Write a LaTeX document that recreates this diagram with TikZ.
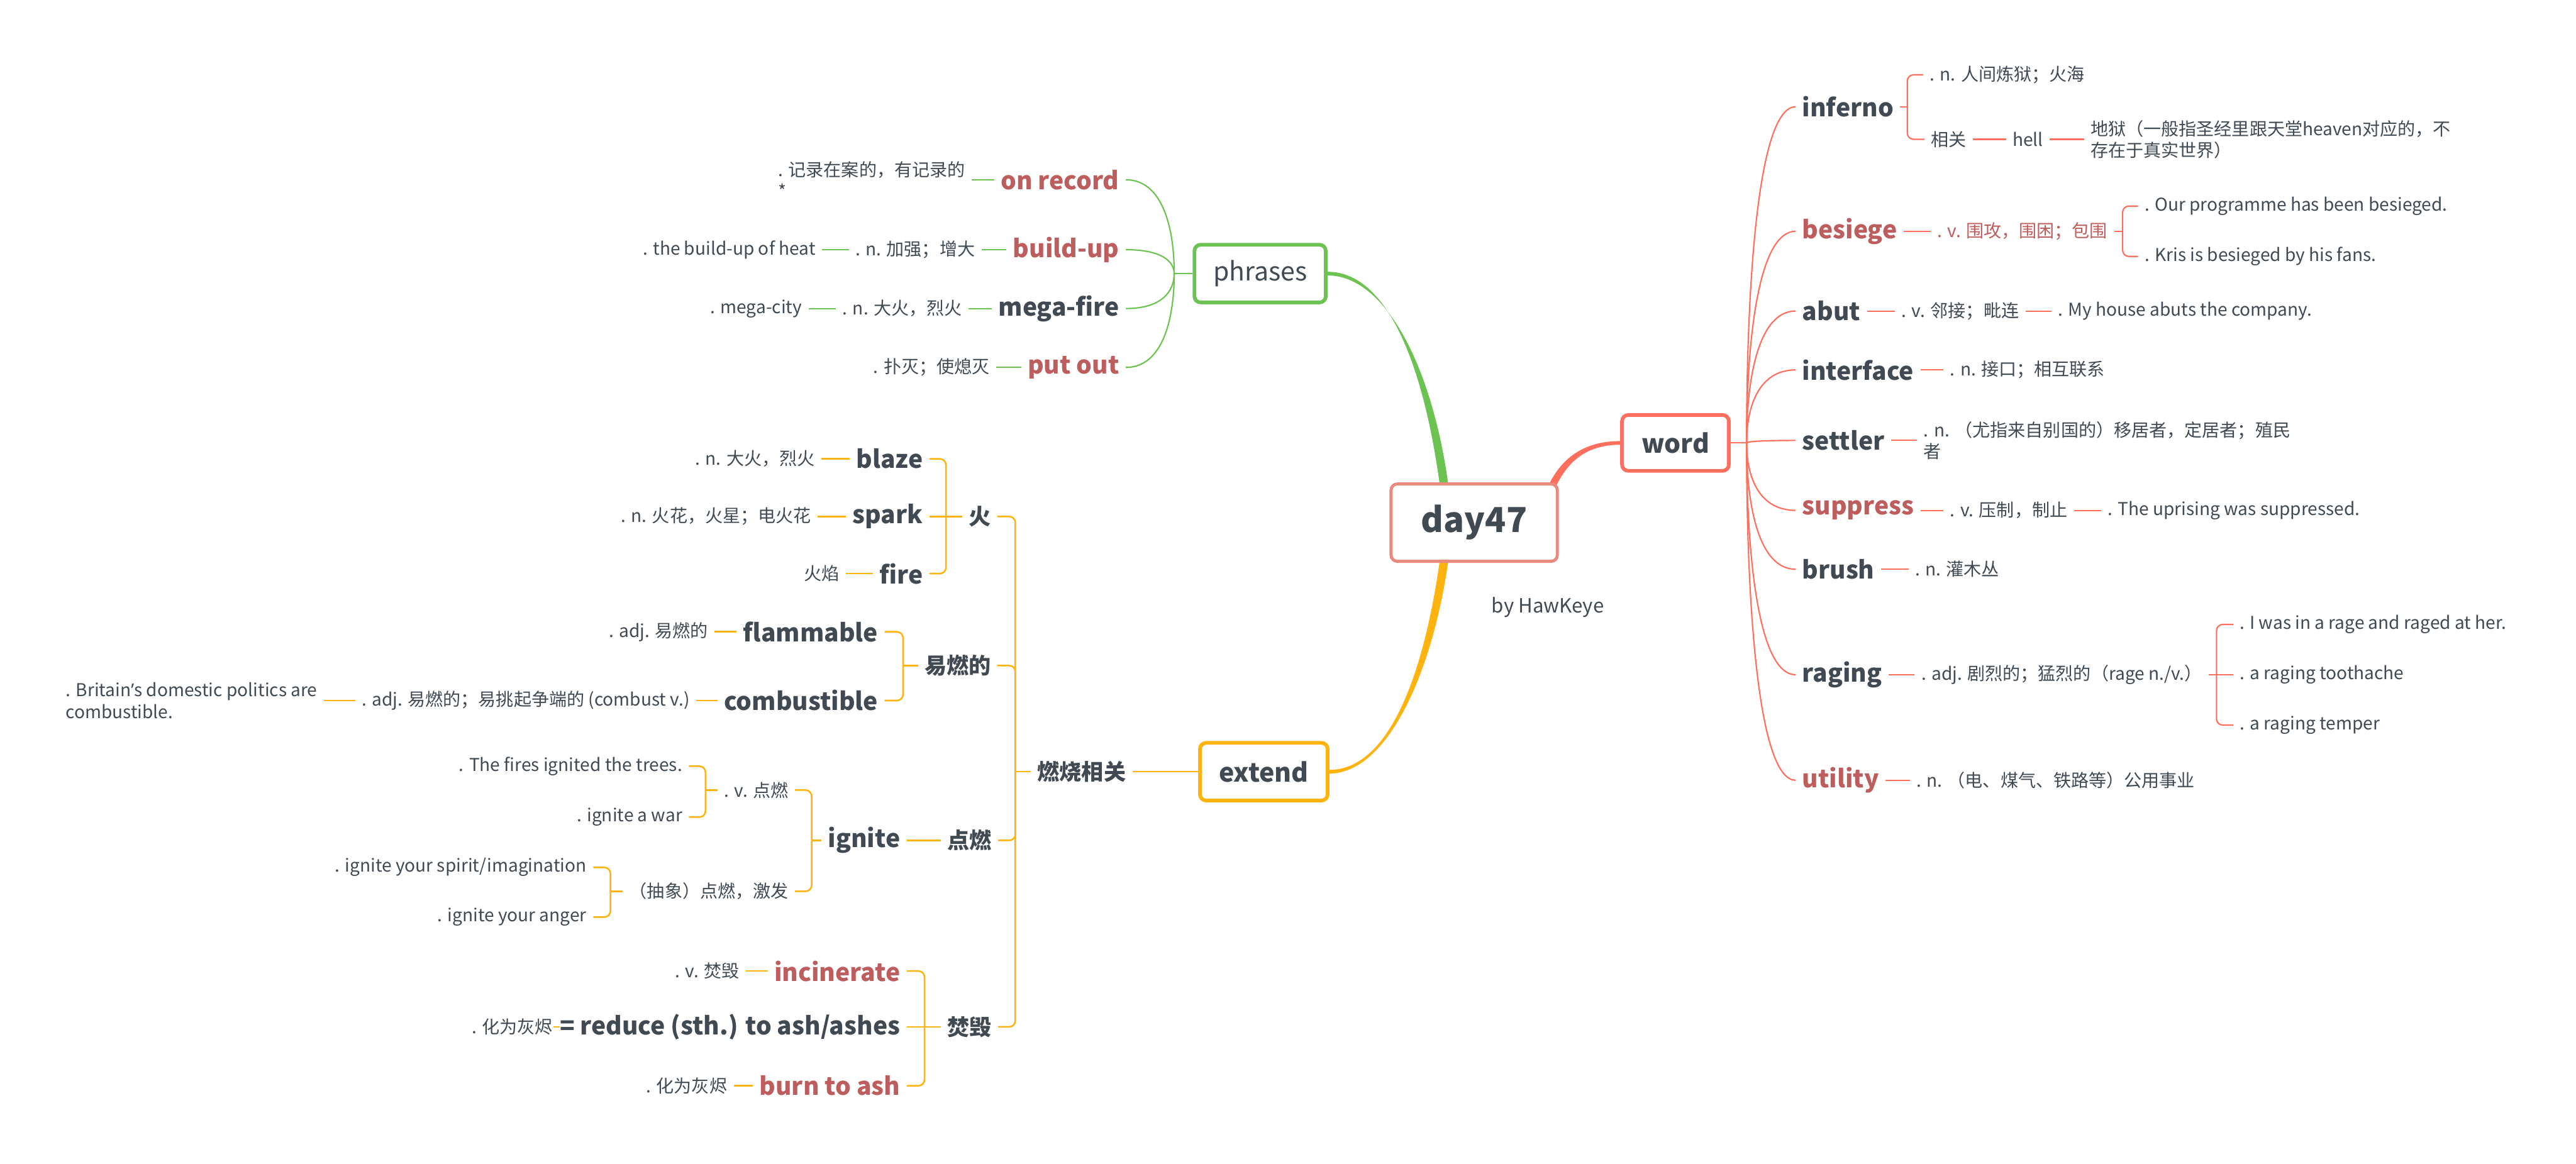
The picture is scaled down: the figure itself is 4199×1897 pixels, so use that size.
\documentclass[tikz,border=0pt]{standalone}
\usepackage{fontspec}
\setmainfont{Noto Sans CJK SC}
\newfontfamily\latf{Noto Sans}
\usetikzlibrary{calc}
\pgfdeclarelayer{bg}
\pgfsetlayers{bg,main}
\definecolor{txt}{HTML}{414A53}
\definecolor{hred}{HTML}{BD5D5D}
\definecolor{cw}{HTML}{FF6F5E}
\definecolor{cg}{HTML}{6DC352}
\definecolor{cy}{HTML}{FFB30F}
\definecolor{cr}{HTML}{EA897E}
\newcommand\fdet{\fontsize{7.2pt}{8.75pt}\selectfont}
\newcommand\fhead{\fontsize{10pt}{12pt}\selectfont\bfseries}
\newcommand\ftopic{\fontsize{9pt}{10pt}\selectfont\bfseries}
\newcommand\fbx{\fontsize{10.5pt}{12pt}\selectfont}
\newcommand\froot{\fontsize{14pt}{16pt}\selectfont\bfseries}
\newcommand\fby{\fontsize{8pt}{10pt}\selectfont}
\newcommand\wcurve[3]{\draw[#1] (#2) .. controls ($(#2)!0.5!(#2|-#3)$) and ($(#2|-#3)!0.25!(#3)$) .. (#3);}
\begin{document}
\begin{tikzpicture}[x=0.25pt,y=-0.25pt,
  det/.style={font=\fdet,text=txt,inner xsep=2.5pt,inner ysep=1pt,align=left},
  dr/.style={det,anchor=west},
  dl/.style={det,anchor=east},
  hw/.style={font=\fhead,text=txt,inner xsep=2.5pt,inner ysep=1pt},
  hr/.style={hw,anchor=west},
  hl/.style={hw,anchor=east},
  hot/.style={text=hred},
  topic/.style={font=\ftopic,text=txt,inner xsep=2.5pt,inner ysep=1pt,anchor=east},
  wl/.style={draw=cw,line width=0.55pt},
  gl/.style={draw=cg,line width=0.55pt},
  yl/.style={draw=cy,line width=0.65pt},
  brk/.style={rounded corners=2.5pt},
  mbox/.style={rounded corners=2.5pt,fill=white,line width=1.5pt,text=txt,font=\fbx},
]
\useasboundingbox (0,0) rectangle (4199,1897);
\begin{pgfonlayer}{bg}
\fill[white] (0,0) rectangle (4199,1897);
\end{pgfonlayer}

% central boxes
\node[mbox,draw=cr,line width=1.25pt,minimum width=67.75pt,minimum height=31.5pt,font=\froot] (root) at (2403,852) {day47};
\node[font=\fby,text=txt] (by) at (2523,990) {by HawKeye};
\node[mbox,draw=cw,minimum width=43.5pt,minimum height=22.75pt,font=\fbx\bfseries] (word) at (2731,722) {word};
\node[mbox,draw=cg,minimum width=53.5pt,minimum height=23.5pt] (phr) at (2054,446) {phrases};
\node[mbox,draw=cy,minimum width=52pt,minimum height=23.5pt,font=\fbx\bfseries] (ext) at (2060,1258) {extend};

% ===== word branch =====
\coordinate (jw) at (2847,722);
\draw[wl] (word.east) -- (jw);
\node[hr] (inf) at (2927,174) {inferno};
\node[hr,hot] (bes) at (2927,377) {besiege};
\node[hr] (abut) at (2927,507) {abut};
\node[hr] (intf) at (2927,603) {interface};
\node[hr] (set) at (2927,718) {settler};
\node[hr,hot] (sup) at (2927,832) {suppress};
\node[hr] (bru) at (2927,928) {brush};
\node[hr] (rag) at (2927,1100) {raging};
\node[hr,hot] (uti) at (2927,1272) {utility};
\foreach \n in {inf,bes,abut,intf,set,sup,bru,rag,uti} {\wcurve{wl}{jw}{\n.west}}

% inferno
\node[dr] (infd) at (3135,122) {. n. 人间炼狱；火海};
\node[dr] (infr) at (3137,227) {相关};
\node[dr] (hell) at (3270,227) {hell};
\node[dr] (helld) at (3397,227) {地狱（一般指圣经里跟天堂heaven对应的，不\\存在于真实世界）};
\coordinate (ti) at (3109,174);
\draw[wl] (inf.east) -- (ti);
\draw[wl,brk] (ti) |- (infd.west);
\draw[wl,brk] (ti) |- (infr.west);
\draw[wl] (infr.east) -- (hell.west);
\draw[wl] (hell.east) -- (helld.west);

% besiege
\node[dr,hot] (besd) at (3147,377) {. v. 围攻，围困；包围};
\draw[wl] (bes.east) -- (besd.west);
\coordinate (tb) at (3460,377);
\draw[wl] (besd.east) -- (tb);
\node[dr] (bes1) at (3485,336) {. Our programme has been besieged.};
\node[dr] (bes2) at (3485,418) {. Kris is besieged by his fans.};
\draw[wl,brk] (tb) |- (bes1.west);
\draw[wl,brk] (tb) |- (bes2.west);

% abut
\node[dr] (abutd) at (3089,507) {. v. 邻接；毗连};
\node[dr] (abute) at (3344,507) {. My house abuts the company.};
\draw[wl] (abut.east) -- (abutd.west);
\draw[wl] (abutd.east) -- (abute.west);

% interface
\node[dr] (intfd) at (3168,603) {. n. 接口；相互联系};
\draw[wl] (intf.east) -- (intfd.west);

% settler
\node[dr] (setd) at (3125,718) {. n. （尤指来自别国的）移居者，定居者；殖民\\者};
\draw[wl] (set.east) -- (setd.west);

% suppress
\node[dr] (supd) at (3168,832) {. v. 压制，制止};
\node[dr] (supe) at (3425,832) {. The uprising was suppressed.};
\draw[wl] (sup.east) -- (supd.west);
\draw[wl] (supd.east) -- (supe.west);

% brush
\node[dr] (brud) at (3111,928) {. n. 灌木丛};
\draw[wl] (bru.east) -- (brud.west);

% raging
\node[dr] (ragd) at (3121,1100) {. adj. 剧烈的；猛烈的（rage n./v.）};
\draw[wl] (rag.east) -- (ragd.west);
\coordinate (tr) at (3613,1100);
\draw[wl] (ragd.east) -- (tr);
\node[dr] (rag1) at (3640,1018) {. I was in a rage and raged at her.};
\node[dr] (rag2) at (3640,1100) {. a raging toothache};
\node[dr] (rag3) at (3640,1182) {. a raging temper};
\draw[wl,brk] (tr) |- (rag1.west);
\draw[wl] (tr) -- (rag2.west);
\draw[wl,brk] (tr) |- (rag3.west);

% utility
\node[dr] (utid) at (3113,1272) {. n. （电、煤气、铁路等）公用事业};
\draw[wl] (uti.east) -- (utid.west);

% ===== phrases branch =====
\coordinate (jp) at (1914,446);
\draw[gl] (phr.west) -- (jp);
\node[hl,hot] (onr) at (1835,293) {on record};
\node[hl,hot] (bup) at (1835,407) {build-up};
\node[hl] (mega) at (1835,503) {mega-fire};
\node[hl,hot] (pout) at (1835,599) {put out};
\foreach \n in {onr,bup,mega,pout} {\wcurve{gl}{jp}{\n.east}}
\node[dl] (onrd) at (1584,293) {. 记录在案的，有记录的\\*};
\draw[gl] (onr.west) -- (onr.west -| onrd.east);
\node[dl] (bupd) at (1600,407) {. n. 加强；增大};
\node[dl] (bupe) at (1340,407) {. the build-up of heat};
\draw[gl] (bupd.east) -- (bup.west);
\draw[gl] (bupe.east) -- (bupd.west);
\node[dl] (megad) at (1579,503) {. n. 大火，烈火};
\node[dl] (megae) at (1318,503) {. mega-city};
\draw[gl] (megad.east) -- (mega.west);
\draw[gl] (megae.east) -- (megad.west);
\node[dl] (poutd) at (1624,599) {. 扑灭；使熄灭};
\draw[gl] (poutd.east) -- (pout.west);

% ===== extend branch =====
\node[topic] (rs) at (1846,1258) {燃烧相关};
\draw[yl] (ext.west) -- (rs.east);
\coordinate (tm) at (1655,1258);
\draw[yl] (rs.west) -- (tm);
\node[topic] (huo) at (1626,842) {火};
\node[topic] (yr) at (1626,1085) {易燃的};
\node[topic] (dian) at (1627,1370) {点燃};
\node[topic] (fen) at (1627,1674) {焚毁};
\foreach \n in {huo,yr,dian,fen} {\draw[yl,brk] (\n.east) -| (tm);}

% fire group
\coordinate (th) at (1542,842);
\draw[yl] (huo.west) -- (th);
\node[hl] (blaze) at (1515,748) {blaze};
\node[hl] (spark) at (1515,842) {spark};
\node[hl] (fire) at (1515,935) {fire};
\draw[yl,brk] (blaze.east) -| (th);
\draw[yl] (spark.east) -- (th);
\draw[yl,brk] (fire.east) -| (th);
\node[dl] (blazed) at (1339,748) {. n. 大火，烈火};
\node[dl] (sparkd) at (1333,842) {. n. 火花，火星；电火花};
\node[dl] (fired) at (1379,935) {火焰};
\draw[yl] (blazed.east) -- (blaze.west);
\draw[yl] (sparkd.east) -- (spark.west);
\draw[yl] (fired.east) -- (fire.west);

% flammable group
\coordinate (ty) at (1472,1085);
\draw[yl] (yr.west) -- (ty);
\node[hl] (flam) at (1442,1030) {flammable};
\node[hl] (comb) at (1442,1142) {combustible};
\draw[yl,brk] (flam.east) -| (ty);
\draw[yl,brk] (comb.east) -| (ty);
\node[dl] (flamd) at (1165,1030) {. adj. 易燃的};
\node[dl] (combd) at (1135,1142) {. adj. 易燃的；易挑起争端的 (combust v.)};
\node[dl] (combe) at (528,1142) {. Britain{\latf ’}s domestic politics are\\combustible.};
\draw[yl] (flamd.east) -- (flam.west);
\draw[yl] (combd.east) -- (comb.west);
\draw[yl] (combe.east) -- (combd.west);

% ignite group
\node[hl] (ign) at (1478,1370) {ignite};
\draw[yl] (ign.east) -- (dian.west);
\coordinate (tg) at (1323,1370);
\draw[yl] (ign.west) -- (tg);
\node[dl] (ignv) at (1296,1288) {. v. 点燃};
\node[dl] (igna) at (1296,1453) {（抽象）点燃，激发};
\draw[yl,brk] (ignv.east) -| (tg);
\draw[yl,brk] (igna.east) -| (tg);
\coordinate (tv) at (1150,1288);
\draw[yl] (ignv.west) -- (tv);
\node[dl] (ign1) at (1123,1249) {. The fires ignited the trees.};
\node[dl] (ign2) at (1123,1332) {. ignite a war};
\draw[yl,brk] (ign1.east) -| (tv);
\draw[yl,brk] (ign2.east) -| (tv);
\coordinate (ta) at (995,1453);
\draw[yl] (igna.west) -- (ta);
\node[dl] (ign3) at (967,1414) {. ignite your spirit/imagination};
\node[dl] (ign4) at (967,1495) {. ignite your anger};
\draw[yl,brk] (ign3.east) -| (ta);
\draw[yl,brk] (ign4.east) -| (ta);

% incinerate group
\coordinate (tf) at (1507,1674);
\draw[yl] (fen.west) -- (tf);
\node[hl,hot] (inc) at (1478,1583) {incinerate};
\node[hl] (redu) at (1478,1674) {= reduce (sth.) to ash/ashes};
\node[hl,hot] (burn) at (1478,1770) {burn to ash};
\draw[yl,brk] (inc.east) -| (tf);
\draw[yl] (redu.east) -- (tf);
\draw[yl,brk] (burn.east) -| (tf);
\node[dl] (incd) at (1216,1583) {. v. 焚毁};
\node[dl] (redd) at (912,1674) {. 化为灰烬};
\node[dl] (burnd) at (1196,1770) {. 化为灰烬};
\draw[yl] (incd.east) -- (inc.west);
\draw[yl] (redd.east) -- (redu.west);
\draw[yl] (burnd.east) -- (burn.west);

% ===== main tapered connectors =====
\coordinate (gE) at ($(root.north west)!0.325!(root.north east)$);
\coordinate (yE) at ($(root.south west)!0.325!(root.south east)$);
\coordinate (sE) at ($(root.north west)!0.955!(root.north east)$);
\begin{pgfonlayer}{bg}
\fill[cg] ($(phr.east)+(0,-3)$) .. controls ($(phr.east)+(99,-3)$) and ($(gE)+(-33,-187)$) .. ($(gE)+(-7,10)$)
  -- ($(gE)+(7,10)$) .. controls ($(gE)+(-19,-187)$) and ($(phr.east)+(95,3)$) .. ($(phr.east)+(0,3)$) -- cycle;
\fill[cy] ($(yE)+(-7,-10)$) .. controls ($(yE)+(-33,182)$) and ($(ext.east)+(97,-3)$) .. ($(ext.east)+(0,-3)$)
  -- ($(ext.east)+(0,3)$) .. controls ($(ext.east)+(93,3)$) and ($(yE)+(-19,182)$) .. ($(yE)+(7,-10)$) -- cycle;
\fill[cw] ($(sE)+(-6,8)$) .. controls ($(sE)+(18,-45)$) and ($(word.west)+(-53,-3)$) .. ($(word.west)+(0,-3)$)
  -- ($(word.west)+(0,3)$) .. controls ($(word.west)+(-50,3)$) and ($(sE)+(28,-39)$) .. ($(sE)+(6,10)$) -- cycle;
\end{pgfonlayer}
\end{tikzpicture}
\end{document}
